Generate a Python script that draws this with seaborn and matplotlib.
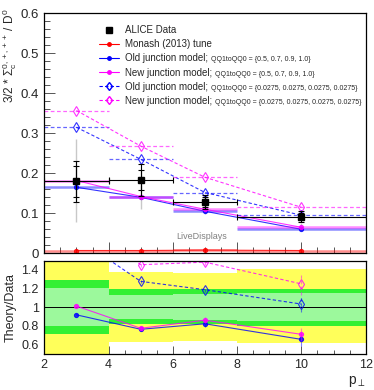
"""Sigma_c / D0 ratio vs pT with theory/data panel."""

import matplotlib

matplotlib.use("Agg")

import matplotlib.pyplot as plt
import numpy as np
import seaborn as sns
from matplotlib.lines import Line2D
from matplotlib.ticker import FuncFormatter, MultipleLocator

sns.set_theme(style="ticks")
plt.rcParams["font.family"] = ["Liberation Sans", "DejaVu Sans"]
plt.rcParams["mathtext.fontset"] = "custom"
plt.rcParams["mathtext.rm"] = "Liberation Sans"
plt.rcParams["mathtext.it"] = "Liberation Sans:italic"

# pT bins
bin_edges = [2, 4, 6, 8, 12]
pt = np.array([3, 5, 7, 10])
pt_half = np.array([1, 1, 1, 2])

# ALICE data
alice = np.array([0.180, 0.184, 0.128, 0.092])
alice_stat = np.array([0.038, 0.025, 0.012, 0.008])
alice_tot = np.array([0.052, 0.040, 0.018, 0.013])

# models
monash = np.array([0.007, 0.007, 0.008, 0.007])
old_qq = np.array([0.165, 0.140, 0.105, 0.060])
new_qq = np.array([0.182, 0.142, 0.110, 0.065])
new_qq_err = np.array([0.103, 0.030, 0.012, 0.010])
old_flat = np.array([0.315, 0.235, 0.152, 0.095])
new_flat = np.array([0.357, 0.268, 0.190, 0.115])

# theory/data uncertainty bands per bin
yellow_lo = [0.45, 0.62, 0.63, 0.61]
yellow_hi = [1.55, 1.38, 1.37, 1.41]
green_lo = [0.71, 0.82, 0.82, 0.80]
green_hi = [1.29, 1.20, 1.19, 1.20]
lgreen_lo = [0.80, 0.87, 0.865, 0.85]
lgreen_hi = [1.21, 1.13, 1.14, 1.15]

labels = [
    "ALICE Data",
    "Monash (2013) tune",
    "Old junction model;",
    "New junction model;",
    "Old junction model;",
    "New junction model;",
]
label_extra = [
    "",
    "",
    "QQ1toQQ0 = {0.5, 0.7, 0.9, 1.0}",
    "QQ1toQQ0 = {0.5, 0.7, 0.9, 1.0}",
    "QQ1toQQ0 = {0.0275, 0.0275, 0.0275, 0.0275}",
    "QQ1toQQ0 = {0.0275, 0.0275, 0.0275, 0.0275}",
]

RED = "#ff0000"
BLUE = "#0000ff"
MAG = "#ff00ff"
DASH = (0, (3, 2))

fig = plt.figure(figsize=(3.74, 3.90), dpi=100)
ax = fig.add_axes([44.3 / 374, (390 - 253.3) / 390, 321.4 / 374, 240 / 390])
rax = fig.add_axes([44.3 / 374, (390 - 353.5) / 390, 321.4 / 374, 92.8 / 390])


def draw_model(axis, y, color, dashed, xbars=True, yerr=None):
    ls = DASH if dashed else "-"
    if xbars:
        eb = axis.errorbar(pt, y, xerr=pt_half, fmt="none", ecolor=color,
                           elinewidth=0.9 if dashed else 1.8, alpha=0.6 if dashed else 0.45)
        for col in eb[2]:
            col.set_linestyle(ls)
    if yerr is not None:
        eb = axis.errorbar(pt, y, yerr=yerr, fmt="none", ecolor=color,
                           elinewidth=0.8, alpha=0.5)
        for col in eb[2]:
            col.set_linestyle(ls)
    sns.lineplot(x=pt, y=y, ax=axis, color=color, linestyle=ls, linewidth=0.8,
                 alpha=0.8, marker="d" if dashed else "o",
                 markersize=5.5 if dashed else 3,
                 markerfacecolor="none" if dashed else color,
                 markeredgecolor=color, markeredgewidth=0.8)


# ---- top panel
ax.errorbar(pt, new_qq, yerr=new_qq_err, fmt="none", ecolor="#c8c8c8", elinewidth=1.0)
draw_model(ax, monash, RED, False)
draw_model(ax, old_qq, BLUE, False)
draw_model(ax, new_qq, MAG, False)
draw_model(ax, old_flat, BLUE, True)
draw_model(ax, new_flat, MAG, True)
ax.errorbar(pt, alice, yerr=alice_tot, xerr=pt_half, fmt="s", color="black", ms=5,
            elinewidth=0.8, capsize=2.5, capthick=0.8, zorder=5)
ax.errorbar(pt, alice, yerr=alice_stat, fmt="none", ecolor="black",
            elinewidth=0.8, capsize=2.5, capthick=0.8, zorder=5)

ax.text(6.9, 0.042, "LiveDisplays", color="#808080", fontsize=6.5, ha="center", va="center")

ax.set_xlim(2, 12)
ax.set_ylim(0, 0.6)
ax.set_ylabel(r"3/2 * $\mathrm{\Sigma_{c}^{0,+,++}}$ / D$^{0}$", fontsize=8.5)
ax.yaxis.set_label_coords(-0.078, 0.825)
ax.yaxis.set_major_locator(MultipleLocator(0.1))
ax.yaxis.set_minor_locator(MultipleLocator(0.02))
ax.xaxis.set_major_locator(MultipleLocator(2))
ax.xaxis.set_minor_locator(MultipleLocator(0.5))
ax.yaxis.set_major_formatter(FuncFormatter(lambda v, p: f"{v:g}"))
ax.tick_params(axis="x", labelbottom=False)

handles = [
    Line2D([], [], color="black", marker="s", ms=4, linestyle="none"),
    Line2D([], [], color=RED, marker="o", ms=2.5, lw=0.8),
    Line2D([], [], color=BLUE, marker="o", ms=2.5, lw=0.8),
    Line2D([], [], color=MAG, marker="o", ms=2.5, lw=0.8),
    Line2D([], [], color=BLUE, marker="d", ms=4.5, mfc="none", lw=0.8, linestyle=DASH),
    Line2D([], [], color=MAG, marker="d", ms=4.5, mfc="none", lw=0.8, linestyle=DASH),
]
leg = ax.legend(handles, labels, loc="upper left", bbox_to_anchor=(0.171, 0.95),
                frameon=False, fontsize=7, handlelength=2.0, handletextpad=0.6,
                labelspacing=0.42, borderpad=0, borderaxespad=0)

# ---- ratio panel
for lo, hi, col in [(yellow_lo, yellow_hi, "#ffff5a"), (green_lo, green_hi, "#33f033"),
                    (lgreen_lo, lgreen_hi, "#9cf99c")]:
    rax.fill_between(bin_edges, lo + [lo[-1]], hi + [hi[-1]], step="post",
                     color=col, linewidth=0)
rax.axhline(1, color="black", lw=0.7)

draw_model(rax, old_qq / alice, BLUE, False, xbars=False,
           yerr=np.array([0.0, 0.02, 0.03, 0.07]))
draw_model(rax, new_qq / alice, MAG, False, xbars=False,
           yerr=np.array([0.0, 0.02, 0.03, 0.07]))
draw_model(rax, old_flat / alice, BLUE, True, xbars=False,
           yerr=np.array([0.0, 0.02, 0.03, 0.09]))
draw_model(rax, new_flat / alice, MAG, True, xbars=False,
           yerr=np.array([0.0, 0.02, 0.03, 0.12]))

rax.set_xlim(2, 12)
rax.set_ylim(0.5, 1.5)
rax.set_ylabel("Theory/Data", fontsize=9)
rax.yaxis.set_label_coords(-0.085, 0.5)
rax.yaxis.set_major_locator(MultipleLocator(0.2))
rax.yaxis.set_minor_locator(MultipleLocator(0.05))
rax.xaxis.set_major_locator(MultipleLocator(2))
rax.xaxis.set_minor_locator(MultipleLocator(0.5))
rax.yaxis.set_major_formatter(FuncFormatter(lambda v, p: f"{v:g}"))
rax.set_xlabel(r"p$_{\perp}$", fontsize=10, loc="right", labelpad=2)

for a in (ax, rax):
    a.tick_params(which="both", direction="in", labelsize=9.5, width=0.7,
                  color="#555555", pad=4)
    a.tick_params(which="major", length=7.7)
    a.tick_params(which="minor", length=4)
    for s in a.spines.values():
        s.set_linewidth(0.9)
        s.set_color("black")
rax.tick_params(axis="both", labelsize=9)
rax.tick_params(which="major", length=6)
rax.tick_params(which="minor", length=3)

# smaller second part of the legend labels
fig.canvas.draw()
renderer = fig.canvas.get_renderer()
inv = fig.transFigure.inverted()
for txt, extra in zip(leg.get_texts(), label_extra):
    if not extra:
        continue
    bb = txt.get_window_extent(renderer)
    x0, y0 = inv.transform((bb.x1 + 3, bb.y0 + 2.0))
    fig.text(x0, y0, extra, fontsize=5, va="baseline", ha="left")

fig.savefig("out.png", dpi=100)
plt.close(fig)
